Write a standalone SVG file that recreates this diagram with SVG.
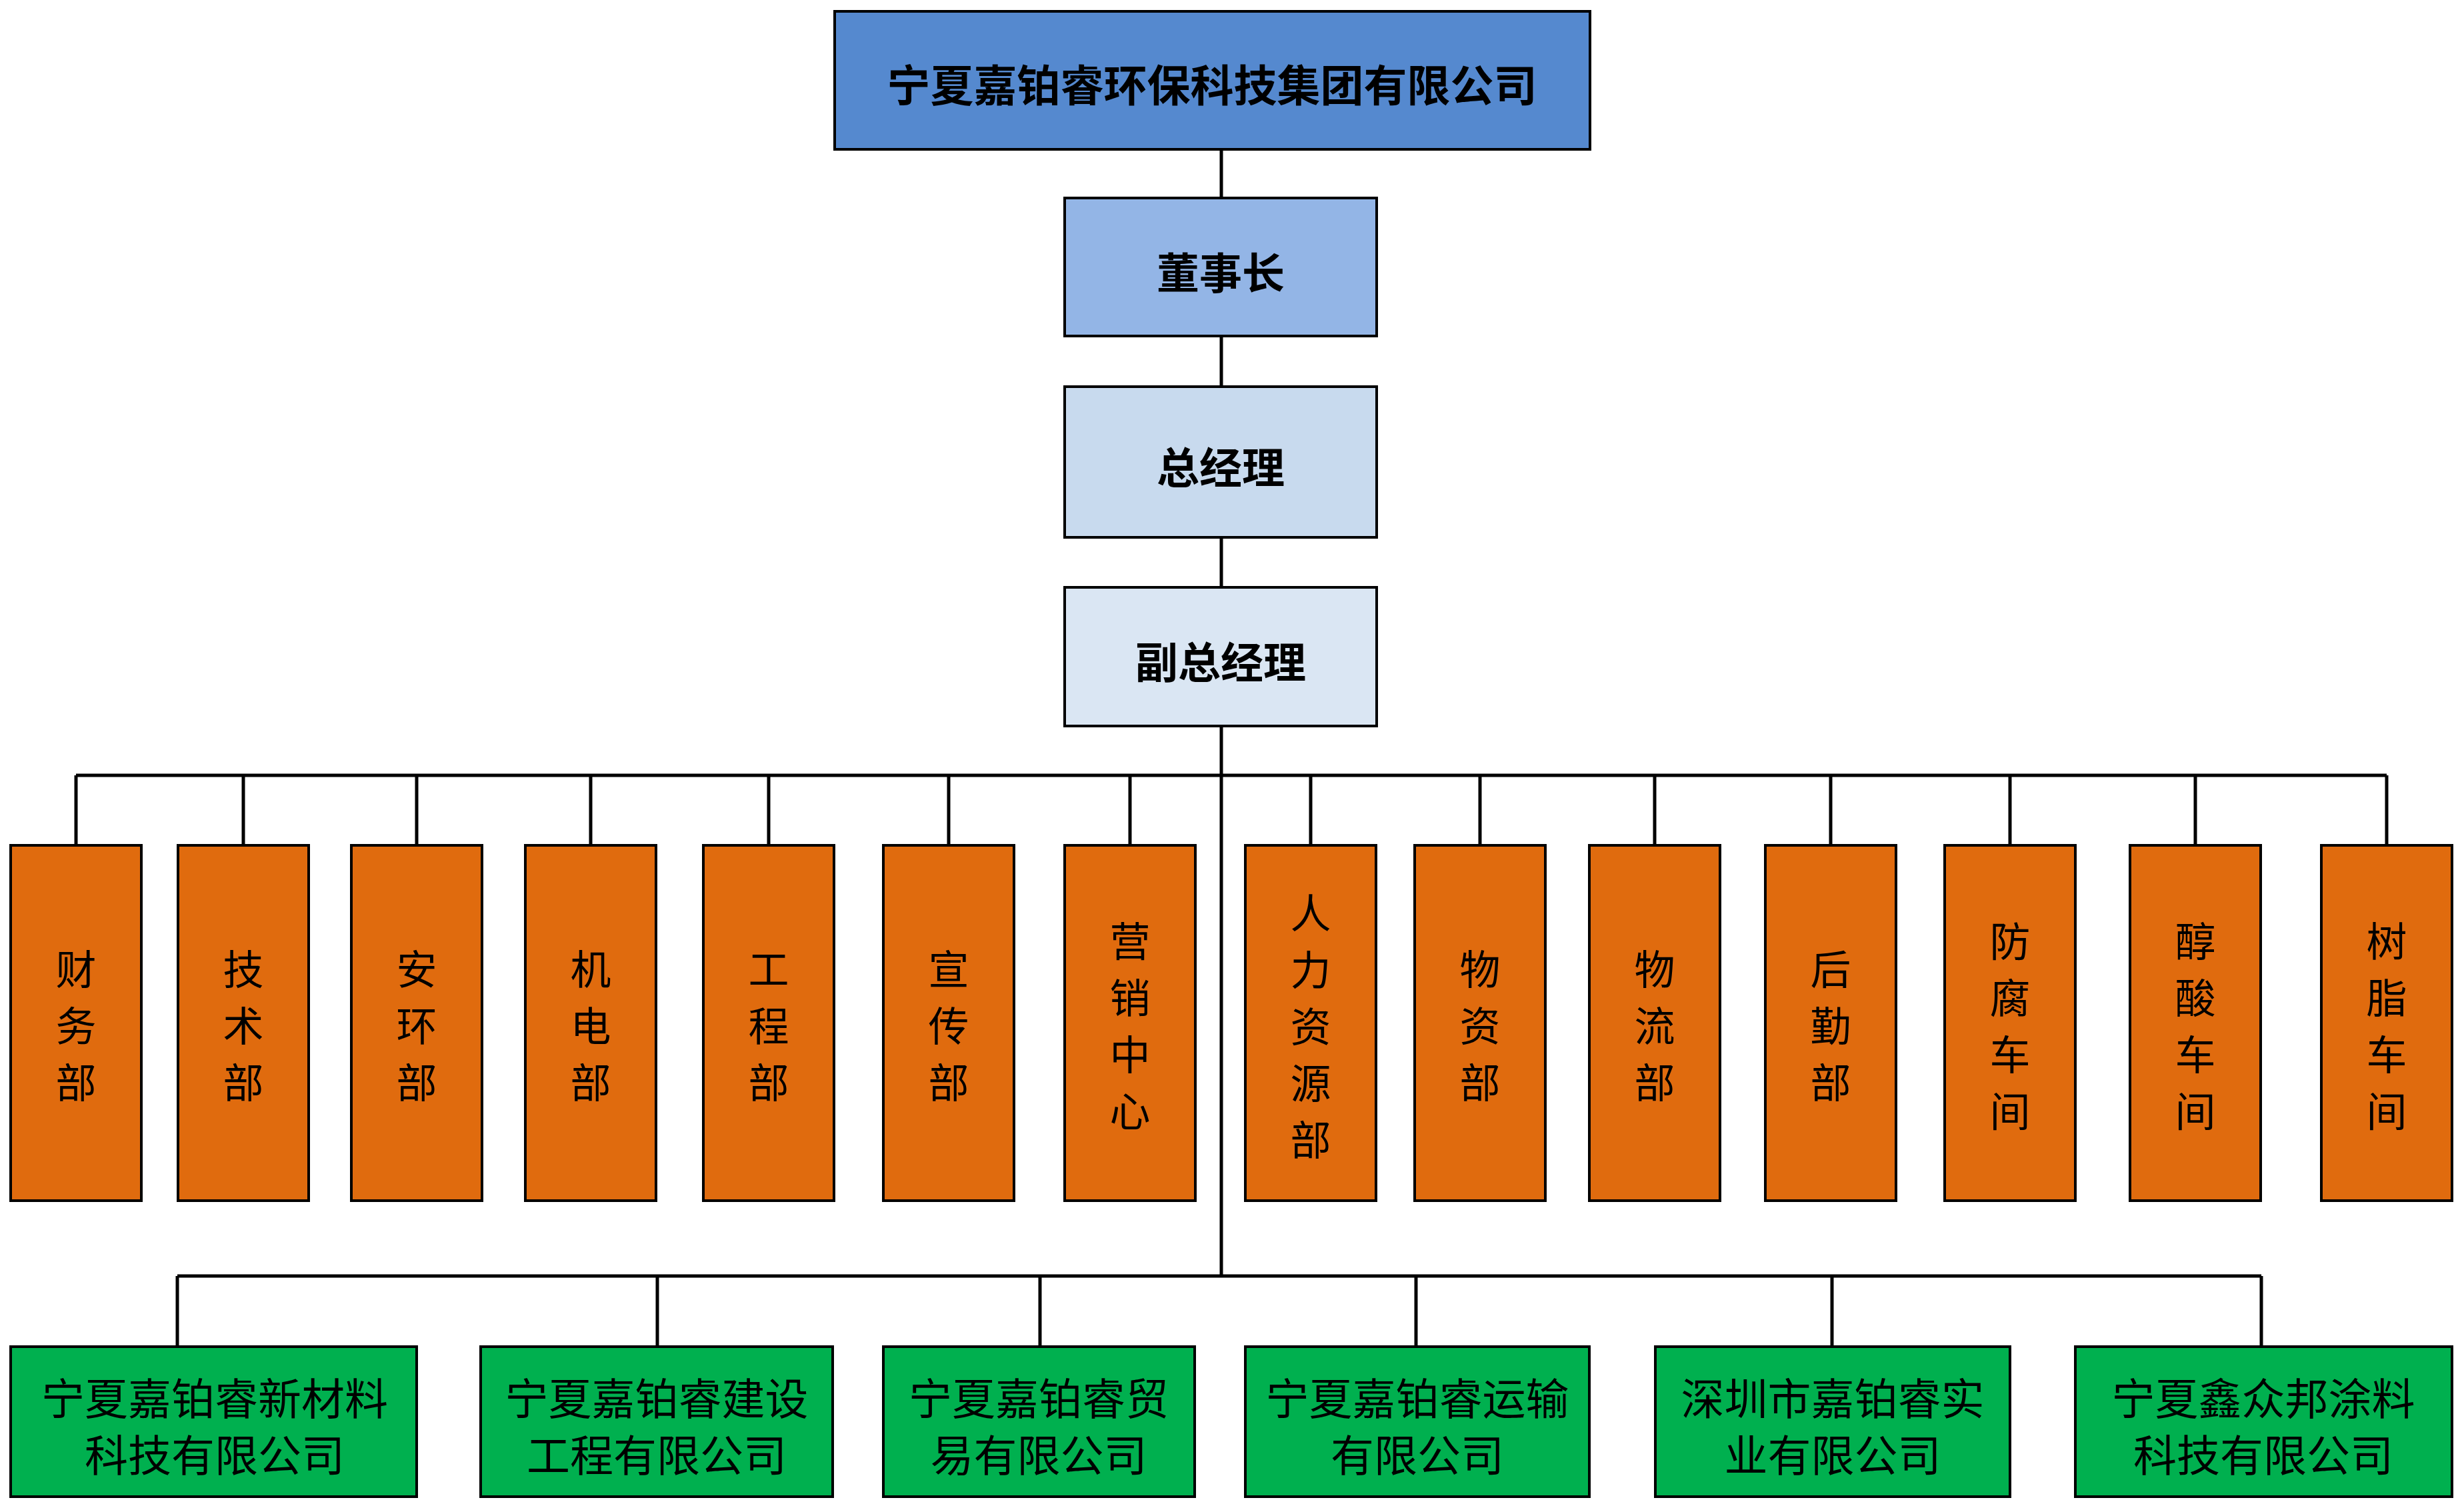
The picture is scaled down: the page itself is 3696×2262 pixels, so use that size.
<svg xmlns="http://www.w3.org/2000/svg" width="3696" height="2262" viewBox="0 0 3696 2262">
<style>
.box{stroke:#000;stroke-width:4}
.top{fill:#5589CF}
.chair{fill:#93B5E6}
.gm{fill:#C8DAEE}
.vgm{fill:#DAE6F3}
.dept{fill:#E06B0E}
.sub{fill:#00B04F}
.t{font-family:"Noto Sans CJK SC","Liberation Sans",sans-serif;fill:#000;text-anchor:middle;dominant-baseline:central}
.tb{font-size:64px;font-weight:bold}
.tt{font-size:65px;font-weight:bold}
.tv{font-size:61px}
.tg{font-size:65px}
.ln{stroke:#000;stroke-width:5;fill:none}
</style>
<rect width="3696" height="2262" fill="#fff"/>
<g id="connectors">
<line class="ln" x1="1832" y1="224" x2="1832" y2="1914"/>
<line class="ln" x1="114" y1="1163" x2="3580" y2="1163"/>
<line class="ln" x1="114" y1="1163" x2="114" y2="1268"/>
<line class="ln" x1="365" y1="1163" x2="365" y2="1268"/>
<line class="ln" x1="625" y1="1163" x2="625" y2="1268"/>
<line class="ln" x1="886" y1="1163" x2="886" y2="1268"/>
<line class="ln" x1="1153" y1="1163" x2="1153" y2="1268"/>
<line class="ln" x1="1423" y1="1163" x2="1423" y2="1268"/>
<line class="ln" x1="1695" y1="1163" x2="1695" y2="1268"/>
<line class="ln" x1="1966" y1="1163" x2="1966" y2="1268"/>
<line class="ln" x1="2220" y1="1163" x2="2220" y2="1268"/>
<line class="ln" x1="2482" y1="1163" x2="2482" y2="1268"/>
<line class="ln" x1="2746" y1="1163" x2="2746" y2="1268"/>
<line class="ln" x1="3015" y1="1163" x2="3015" y2="1268"/>
<line class="ln" x1="3293" y1="1163" x2="3293" y2="1268"/>
<line class="ln" x1="3580" y1="1163" x2="3580" y2="1268"/>
<line class="ln" x1="266" y1="1914" x2="3392" y2="1914" stroke-width="6"/>
<line class="ln" x1="266" y1="1914" x2="266" y2="2020"/>
<line class="ln" x1="986" y1="1914" x2="986" y2="2020"/>
<line class="ln" x1="1560" y1="1914" x2="1560" y2="2020"/>
<line class="ln" x1="2124" y1="1914" x2="2124" y2="2020"/>
<line class="ln" x1="2748" y1="1914" x2="2748" y2="2020"/>
<line class="ln" x1="3392" y1="1914" x2="3392" y2="2020"/>
</g>
<g id="n-group"><rect class="box top" x="1252" y="17" width="1133" height="207"/><text class="t tt" x="1818" y="124">宁夏嘉铂睿环保科技集团有限公司</text></g>
<g id="n-chair"><rect class="box chair" x="1597" y="297" width="468" height="207"/><text class="t tb" x="1831" y="405">董事长</text></g>
<g id="n-gm"><rect class="box gm" x="1597" y="580" width="468" height="226"/><text class="t tb" x="1831" y="697">总经理</text></g>
<g id="n-vgm"><rect class="box vgm" x="1597" y="881" width="468" height="208"/><text class="t tb" x="1831" y="989">副总经理</text></g>

<g id="d1"><rect class="box dept" x="16" y="1268" width="196" height="533"/><text class="t tv" x="114"><tspan x="114" y="1450">财</tspan><tspan x="114" y="1535">务</tspan><tspan x="114" y="1620">部</tspan></text></g>
<g id="d2"><rect class="box dept" x="267" y="1268" width="196" height="533"/><text class="t tv" x="365"><tspan x="365" y="1450">技</tspan><tspan x="365" y="1535">术</tspan><tspan x="365" y="1620">部</tspan></text></g>
<g id="d3"><rect class="box dept" x="527" y="1268" width="196" height="533"/><text class="t tv" x="625"><tspan x="625" y="1450">安</tspan><tspan x="625" y="1535">环</tspan><tspan x="625" y="1620">部</tspan></text></g>
<g id="d4"><rect class="box dept" x="788" y="1268" width="196" height="533"/><text class="t tv" x="886"><tspan x="886" y="1450">机</tspan><tspan x="886" y="1535">电</tspan><tspan x="886" y="1620">部</tspan></text></g>
<g id="d5"><rect class="box dept" x="1055" y="1268" width="196" height="533"/><text class="t tv" x="1153"><tspan x="1153" y="1450">工</tspan><tspan x="1153" y="1535">程</tspan><tspan x="1153" y="1620">部</tspan></text></g>
<g id="d6"><rect class="box dept" x="1325" y="1268" width="196" height="533"/><text class="t tv" x="1423"><tspan x="1423" y="1450">宣</tspan><tspan x="1423" y="1535">传</tspan><tspan x="1423" y="1620">部</tspan></text></g>
<g id="d7"><rect class="box dept" x="1597" y="1268" width="196" height="533"/><text class="t tv" x="1695"><tspan x="1695" y="1408">营</tspan><tspan x="1695" y="1493">销</tspan><tspan x="1695" y="1578">中</tspan><tspan x="1695" y="1663">心</tspan></text></g>
<g id="d8"><rect class="box dept" x="1868" y="1268" width="196" height="533"/><text class="t tv" x="1966"><tspan x="1966" y="1366">人</tspan><tspan x="1966" y="1451">力</tspan><tspan x="1966" y="1536">资</tspan><tspan x="1966" y="1621">源</tspan><tspan x="1966" y="1706">部</tspan></text></g>
<g id="d9"><rect class="box dept" x="2122" y="1268" width="196" height="533"/><text class="t tv" x="2220"><tspan x="2220" y="1450">物</tspan><tspan x="2220" y="1535">资</tspan><tspan x="2220" y="1620">部</tspan></text></g>
<g id="d10"><rect class="box dept" x="2384" y="1268" width="196" height="533"/><text class="t tv" x="2482"><tspan x="2482" y="1450">物</tspan><tspan x="2482" y="1535">流</tspan><tspan x="2482" y="1620">部</tspan></text></g>
<g id="d11"><rect class="box dept" x="2648" y="1268" width="196" height="533"/><text class="t tv" x="2746"><tspan x="2746" y="1450">后</tspan><tspan x="2746" y="1535">勤</tspan><tspan x="2746" y="1620">部</tspan></text></g>
<g id="d12"><rect class="box dept" x="2917" y="1268" width="196" height="533"/><text class="t tv" x="3015"><tspan x="3015" y="1408">防</tspan><tspan x="3015" y="1493">腐</tspan><tspan x="3015" y="1578">车</tspan><tspan x="3015" y="1663">间</tspan></text></g>
<g id="d13"><rect class="box dept" x="3195" y="1268" width="196" height="533"/><text class="t tv" x="3293"><tspan x="3293" y="1408">醇</tspan><tspan x="3293" y="1493">酸</tspan><tspan x="3293" y="1578">车</tspan><tspan x="3293" y="1663">间</tspan></text></g>
<g id="d14"><rect class="box dept" x="3482" y="1268" width="196" height="533"/><text class="t tv" x="3580"><tspan x="3580" y="1408">树</tspan><tspan x="3580" y="1493">脂</tspan><tspan x="3580" y="1578">车</tspan><tspan x="3580" y="1663">间</tspan></text></g>

<g id="s1"><rect class="box sub" x="16" y="2020" width="609" height="225"/><text class="t tg"><tspan x="322" y="2094">宁夏嘉铂睿新材料</tspan><tspan x="322" y="2179">科技有限公司</tspan></text></g>
<g id="s2"><rect class="box sub" x="721" y="2020" width="528" height="225"/><text class="t tg"><tspan x="985" y="2094">宁夏嘉铂睿建设</tspan><tspan x="985" y="2179">工程有限公司</tspan></text></g>
<g id="s3"><rect class="box sub" x="1325" y="2020" width="467" height="225"/><text class="t tg"><tspan x="1558" y="2094">宁夏嘉铂睿贸</tspan><tspan x="1558" y="2179">易有限公司</tspan></text></g>
<g id="s4"><rect class="box sub" x="1868" y="2020" width="516" height="225"/><text class="t tg"><tspan x="2126" y="2094">宁夏嘉铂睿运输</tspan><tspan x="2126" y="2179">有限公司</tspan></text></g>
<g id="s5"><rect class="box sub" x="2483" y="2020" width="532" height="225"/><text class="t tg"><tspan x="2749" y="2094">深圳市嘉铂睿实</tspan><tspan x="2749" y="2179">业有限公司</tspan></text></g>
<g id="s6"><rect class="box sub" x="3113" y="2020" width="565" height="225"/><text class="t tg"><tspan x="3395" y="2094">宁夏鑫众邦涂料</tspan><tspan x="3395" y="2179">科技有限公司</tspan></text></g>
</svg>
